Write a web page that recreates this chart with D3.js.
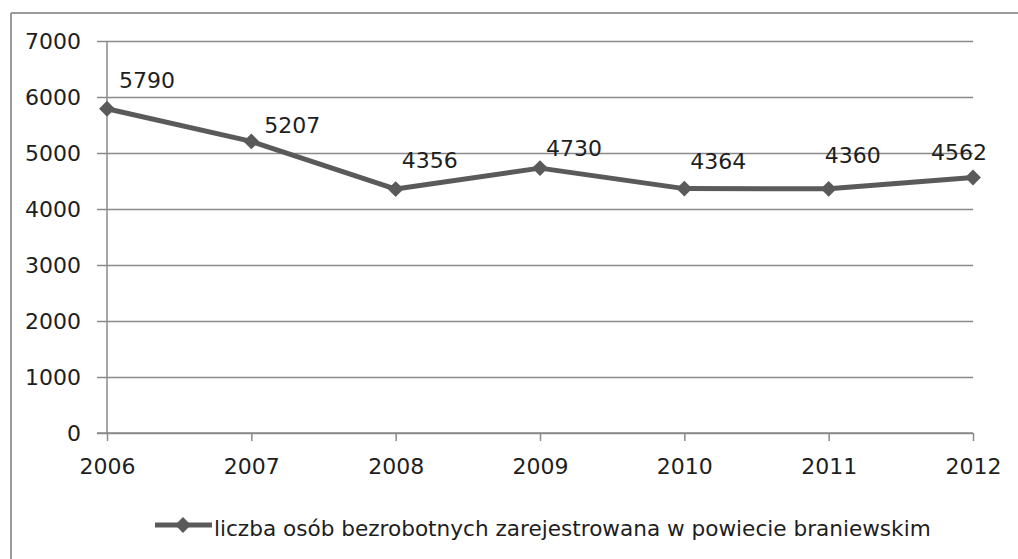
<!DOCTYPE html>
<html>
<head>
<meta charset="utf-8">
<script src="https://cdn.jsdelivr.net/npm/d3@7"></script>
<style>
  html, body { margin: 0; padding: 0; background: #fff; }
  svg { display: block; }
  text { font-family: "DejaVu Sans", sans-serif; fill: #1e1e1e; }
</style>
</head>
<body>
<svg id="chart" width="1018" height="559"></svg>
<script>
const years = ["2006", "2007", "2008", "2009", "2010", "2011", "2012"];
const values = [5790, 5207, 4356, 4730, 4364, 4360, 4562];
const yTicks = [0, 1000, 2000, 3000, 4000, 5000, 6000, 7000];
const seriesName = "liczba osób bezrobotnych zarejestrowana w powiecie braniewskim";
// per-label nudges (dx, dy) relative to each point, as placed in the original
const labelNudge = [[40, -21], [41, -8], [34, -21], [34, -12], [34, -20], [24, -26], [-14, -18]];

const W = 1018, H = 559;
const svg = d3.select("#chart");
const fontSize = 22;
const lineColor = "#5a5a5a";
const gridColor = "#8a8a8a";

// outer border (top & left visible)
svg.append("line").attr("x1", 11).attr("x2", W).attr("y1", 13).attr("y2", 13)
  .attr("stroke", "#9a9a9a").attr("stroke-width", 2);
svg.append("line").attr("x1", 11).attr("x2", 11).attr("y1", 13).attr("y2", H)
  .attr("stroke", "#9a9a9a").attr("stroke-width", 2);

const x = d3.scalePoint().domain(years).range([107, 973]).padding(0);
const y = d3.scaleLinear().domain([0, 7000]).range([433, 41]);

// gridlines + y axis
const yAxis = d3.axisLeft(y).tickValues(yTicks).tickSize(-(973 - 97)).tickPadding(17).tickFormat(d3.format("d"));
const gy = svg.append("g").attr("transform", "translate(97,0)").call(yAxis);
gy.select(".domain").remove();
gy.selectAll(".tick line").attr("stroke", gridColor).attr("stroke-width", 1.5);
gy.selectAll(".tick text").attr("font-size", fontSize).attr("x", -16).attr("dy", "0.36em");

// y axis vertical line
svg.append("line").attr("x1", 107).attr("x2", 107).attr("y1", 41).attr("y2", 433)
  .attr("stroke", gridColor).attr("stroke-width", 1.5);

// x axis
const xAxis = d3.axisBottom(x).tickSize(8).tickPadding(17);
const gx = svg.append("g").attr("transform", "translate(0,433)").call(xAxis);
gx.select(".domain").remove();
gx.selectAll(".tick line").attr("stroke", gridColor).attr("stroke-width", 1.5);
gx.selectAll(".tick text").attr("font-size", fontSize);
svg.append("line").attr("x1", 97).attr("x2", 973).attr("y1", 433).attr("y2", 433)
  .attr("stroke", gridColor).attr("stroke-width", 1.5);

const data = years.map((yr, i) => ({ yr, v: values[i], nudge: labelNudge[i] }));

// line
const line = d3.line().x(d => x(d.yr)).y(d => y(d.v));
svg.append("path").datum(data).attr("d", line)
  .attr("fill", "none").attr("stroke", lineColor).attr("stroke-width", 5)
  .attr("stroke-linejoin", "round");

// markers
const diamond = d3.symbol().type(d3.symbolDiamond2).size(160);
svg.selectAll(".marker").data(data).enter().append("path")
  .attr("class", "marker")
  .attr("d", diamond)
  .attr("transform", d => `translate(${x(d.yr)},${y(d.v)})`)
  .attr("fill", lineColor);

// data labels
svg.selectAll(".lbl").data(data).enter().append("text")
  .attr("class", "lbl")
  .attr("x", d => x(d.yr) + d.nudge[0])
  .attr("y", d => y(d.v) + d.nudge[1])
  .attr("text-anchor", "middle")
  .attr("font-size", fontSize)
  .text(d => d.v);

// legend
const lg = svg.append("g");
lg.append("line").attr("x1", 155).attr("x2", 212).attr("y1", 525).attr("y2", 525)
  .attr("stroke", lineColor).attr("stroke-width", 5);
lg.append("path").attr("d", diamond).attr("transform", "translate(183,525)").attr("fill", lineColor);
lg.append("text").attr("x", 214).attr("y", 536).attr("font-size", 21.6)
  .text(seriesName);
</script>
</body>
</html>
